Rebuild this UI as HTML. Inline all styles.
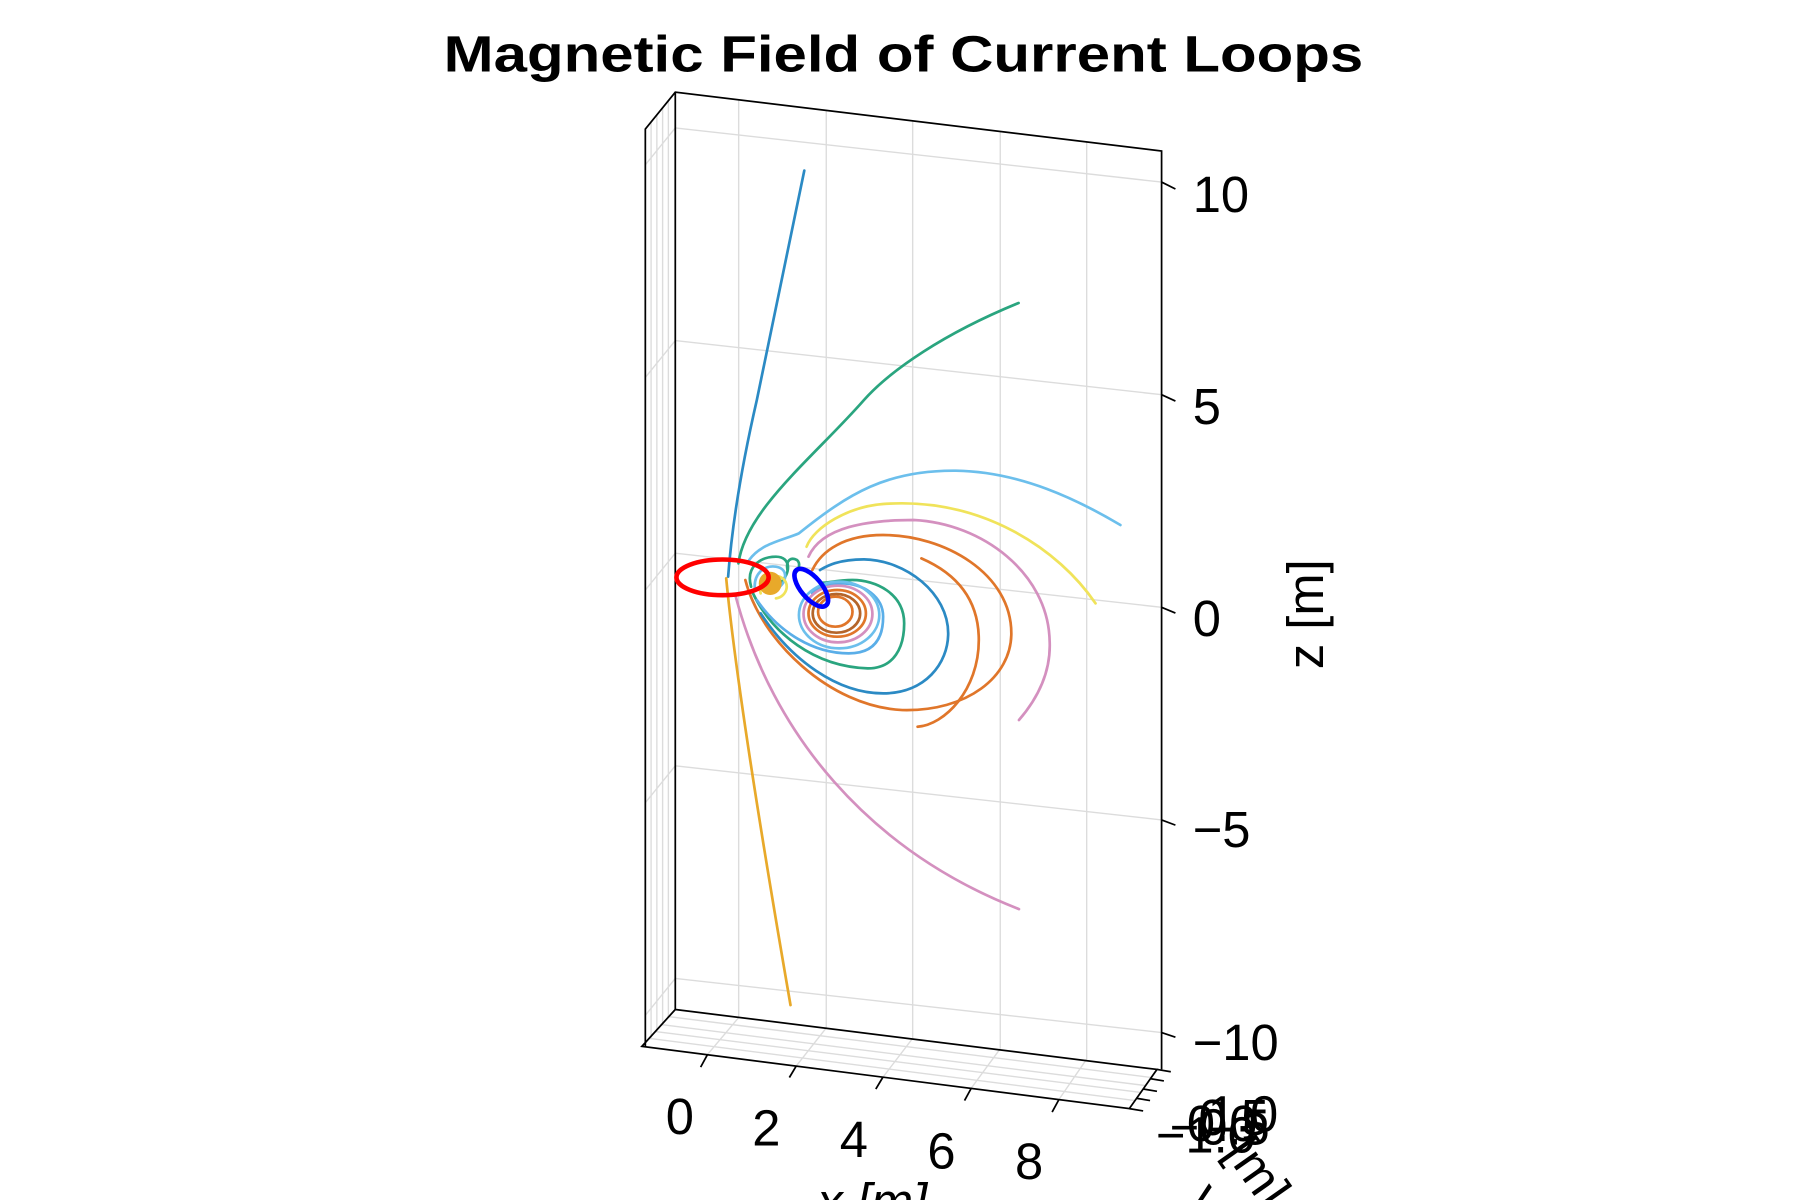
<!DOCTYPE html>
<html><head><style>
html,body{margin:0;padding:0;background:#fff;}
svg{display:block;}
text{font-family:"Liberation Sans",sans-serif;}
</style></head><body>
<svg width="1800" height="1200" viewBox="0 0 1562 1041.3" preserveAspectRatio="none" xmlns="http://www.w3.org/2000/svg">
<rect x="0" y="0" width="1562" height="1042" fill="#fff"/>
<text x="784" y="62" font-size="44" font-weight="bold" text-anchor="middle" textLength="798" lengthAdjust="spacingAndGlyphs">Magnetic Field of Current Loops</text>

<g stroke="#dcdcdc" stroke-width="1.2" fill="none">
<line x1="586" y1="111" x2="1008" y2="158"/>
<line x1="586" y1="295.5" x2="1008" y2="342.5"/>
<line x1="586" y1="480" x2="1008" y2="527"/>
<line x1="586" y1="664.5" x2="1008" y2="711.5"/>
<line x1="586" y1="849" x2="1008" y2="896"/>
<line x1="641" y1="87" x2="641" y2="883"/>
<line x1="717" y1="96" x2="717" y2="892"/>
<line x1="792" y1="105" x2="792" y2="901"/>
<line x1="868" y1="114" x2="868" y2="910"/>
<line x1="943" y1="123" x2="943" y2="919"/>
<line x1="560" y1="143" x2="586" y2="111"/>
<line x1="560" y1="327.5" x2="586" y2="295.5"/>
<line x1="560" y1="512" x2="586" y2="480"/>
<line x1="560" y1="696.5" x2="586" y2="664.5"/>
<line x1="560" y1="881" x2="586" y2="849"/>
<line x1="565" y1="106" x2="565" y2="902"/>
<line x1="570" y1="100" x2="570" y2="896"/>
<line x1="575" y1="94" x2="575" y2="890"/>
<line x1="580" y1="87" x2="580" y2="883"/>
<line x1="641" y1="883" x2="614" y2="915"/>
<line x1="717" y1="892" x2="691" y2="925"/>
<line x1="792" y1="901" x2="766" y2="935"/>
<line x1="868" y1="910" x2="843" y2="944"/>
<line x1="943" y1="919" x2="919" y2="954"/>
<line x1="579" y1="882" x2="999" y2="935"/>
<line x1="573" y1="889" x2="994" y2="942"/>
<line x1="568" y1="895" x2="990" y2="948"/>
<line x1="563" y1="901" x2="985" y2="955"/>
</g>

<g stroke="#000" stroke-width="1.5" fill="none">
<polyline points="560,908 560,112 586,80 1008,131 1008,928"/>
<line x1="586" y1="80" x2="586" y2="876"/>
<polyline points="586,876 1004,928 980,962 557,908 586,876"/>
<line x1="1008" y1="158" x2="1020" y2="164"/>
<line x1="1008" y1="342.5" x2="1020" y2="348"/>
<line x1="1008" y1="527" x2="1020" y2="532"/>
<line x1="1008" y1="711.5" x2="1020" y2="716"/>
<line x1="1008" y1="896" x2="1020" y2="900"/>
<line x1="614" y1="915" x2="608" y2="926"/>
<line x1="691" y1="925" x2="685" y2="935"/>
<line x1="766" y1="935" x2="760" y2="945"/>
<line x1="843" y1="944" x2="837" y2="955"/>
<line x1="919" y1="954" x2="913" y2="965"/>
<line x1="1004" y1="928" x2="1016" y2="930"/>
<line x1="998" y1="936" x2="1010" y2="938"/>
<line x1="992" y1="945" x2="1004" y2="947"/>
<line x1="986" y1="953" x2="998" y2="955"/>
<line x1="980" y1="962" x2="992" y2="964"/>
</g>

<g font-size="44" fill="#000">
<text x="1035" y="184">10</text>
<text x="1035" y="368">5</text>
<text x="1035" y="552">0</text>
<text x="1035" y="735">−5</text>
<text x="1035" y="920">−10</text>
<text x="590" y="984" text-anchor="middle">0</text>
<text x="665" y="994" text-anchor="middle">2</text>
<text x="741" y="1004" text-anchor="middle">4</text>
<text x="817" y="1014" text-anchor="middle">6</text>
<text x="893" y="1023" text-anchor="middle">8</text>
<text x="757" y="1058" text-anchor="middle" font-style="italic">x [m]</text>
<text transform="translate(1148,533) rotate(-90)" text-anchor="middle">z [m]</text>
<text x="1003" y="1000">−1.0</text>
<text x="1015" y="993">−0.5</text>
<text x="1030" y="990">0.0</text>
<text x="1040" y="985">0.5</text>
<text x="1048" y="982">1.0</text>
<text transform="translate(1062,1000) rotate(55)">[m]</text>
<text transform="translate(1030,1040) rotate(55)">y</text>
</g>

<g transform="translate(520.6,347.1) scale(0.3321,0.2893)" fill="none" stroke-linecap="round">
<g stroke-width="2.7">
<path vector-effect="non-scaling-stroke" stroke="#2b8ac4" d="M534,-688 L410,0 Q350,300 335,530"/>
<path vector-effect="non-scaling-stroke" stroke="#2aa57f" d="M1094,-291 C900,-200 760,-90 690,0 C560,170 380,330 362,490"/>
<path vector-effect="non-scaling-stroke" stroke="#e8a92a" d="M330,535 Q360,900 498,1815"/>
<path vector-effect="non-scaling-stroke" stroke="#d490bf" d="M355,590 C450,1000 700,1350 1095,1527"/>
<path vector-effect="non-scaling-stroke" stroke="#6cbfec" d="M390,480 C420,430 480,420 520,400 C650,280 750,210 930,212 C1100,215 1250,300 1360,375"/>
<path vector-effect="non-scaling-stroke" stroke="#f0e35a" d="M540,440 C560,380 650,320 740,312 C1000,290 1200,450 1295,610"/>
<path vector-effect="non-scaling-stroke" stroke="#d490bf" d="M545,470 C580,380 700,360 820,360 C1000,370 1170,520 1175,720 C1180,820 1140,900 1095,960"/>
<path vector-effect="non-scaling-stroke" stroke="#e0762a" d="M380,540 C420,720 600,920 790,930 C960,935 1075,830 1075,700 C1075,520 900,405 740,405 C640,405 580,450 555,510"/>
<path vector-effect="non-scaling-stroke" stroke="#e0762a" d="M840,475 C950,530 990,620 990,720 C990,870 900,975 830,980"/>
<path vector-effect="non-scaling-stroke" stroke="#2b8ac4" d="M420,640 C500,780 620,880 740,880 C850,880 910,790 910,700 C910,580 800,480 690,478 C620,478 590,500 575,510"/>
<path vector-effect="non-scaling-stroke" stroke="#2aa57f" d="M400,580 C450,700 560,800 700,805 C770,805 795,740 795,670 C795,580 720,540 660,540 C620,540 590,550 580,548"/>
<path vector-effect="non-scaling-stroke" stroke="#5aaee8" d="M410,600 C470,700 560,760 650,760 C720,760 740,710 740,650 C740,590 690,550 630,550 C580,550 560,570 555,580"/>
<ellipse vector-effect="non-scaling-stroke" stroke="#6cbfec" cx="625" cy="645" rx="105" ry="100"/>
<ellipse vector-effect="non-scaling-stroke" stroke="#d490bf" cx="622" cy="642" rx="90" ry="85"/>
<ellipse vector-effect="non-scaling-stroke" stroke="#e0762a" cx="620" cy="640" rx="75" ry="70"/>
<ellipse vector-effect="non-scaling-stroke" stroke="#b5652a" cx="618" cy="640" rx="62" ry="58"/>
<ellipse vector-effect="non-scaling-stroke" stroke="#e0762a" cx="615" cy="635" rx="45" ry="45"/>
<path vector-effect="non-scaling-stroke" stroke="#2aa57f" d="M395,560 C380,500 420,470 460,470 C500,470 500,520 470,550"/>
<path vector-effect="non-scaling-stroke" stroke="#2aa57f" d="M490,510 C485,480 500,470 515,480 C525,490 520,510 510,520"/>
<path vector-effect="non-scaling-stroke" stroke="#6cbfec" d="M405,570 C400,520 430,495 460,500 C490,505 490,540 470,560"/>
<path vector-effect="non-scaling-stroke" stroke="#f0e35a" d="M420,580 C410,540 440,520 470,530 C500,545 490,590 460,595"/>
</g>
<ellipse cx="445" cy="550" rx="30" ry="35" fill="#e8a92a" stroke="none"/>
</g>

<ellipse cx="627" cy="501" rx="40" ry="15.5" fill="none" stroke="#ff0000" stroke-width="4"/>
<ellipse cx="704" cy="510" rx="20" ry="9" transform="rotate(50 704 510)" fill="none" stroke="#0000ff" stroke-width="4"/>
</svg>
</body></html>
